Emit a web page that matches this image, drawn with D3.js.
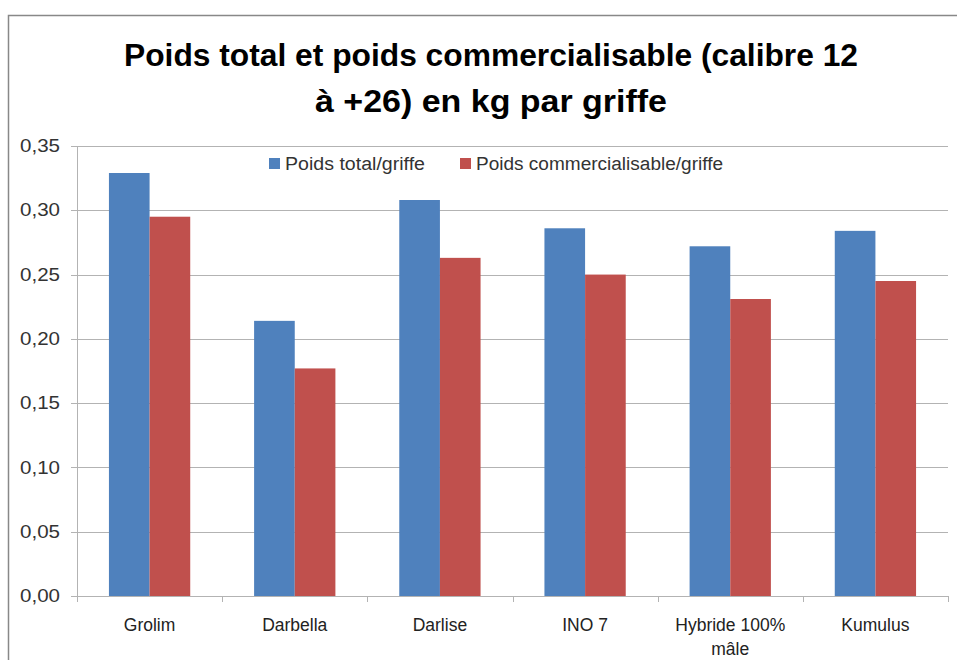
<!DOCTYPE html>
<html><head><meta charset="utf-8">
<script src="https://cdn.jsdelivr.net/npm/d3@7"></script>
<style>body{margin:0;background:#fff}svg{display:block}</style>
</head><body>
<svg id="c" width="957" height="660"></svg>
<script>
const categories = ["Grolim","Darbella","Darlise","INO 7","Hybride 100% mâle","Kumulus"];
const categoryLines = [["Grolim"],["Darbella"],["Darlise"],["INO 7"],["Hybride 100%","mâle"],["Kumulus"]];
const seriesNames = ["Poids total/griffe","Poids commercialisable/griffe"];
const poidsTotal = [0.329, 0.214, 0.308, 0.286, 0.272, 0.284];
const poidsCommercialisable = [0.295, 0.177, 0.263, 0.250, 0.231, 0.245];
const yTicks = [0,0.05,0.10,0.15,0.20,0.25,0.30,0.35];
const colors = ["#4F81BD","#C0504D"];
const titleLines = ["Poids total et poids commercialisable (calibre 12","à +26) en kg par griffe"];

const svg = d3.select("#c");
const font = "'Liberation Sans', Arial, sans-serif";
svg.append("rect").attr("x",8.5).attr("y",15.5).attr("width",1000).attr("height",800)
  .attr("fill","#fff").attr("stroke","#888").attr("stroke-width",1.5);

const m = {left:77, right:948, top:146, bottom:596};
const y = d3.scaleLinear().domain([0,0.35]).range([m.bottom,m.top]);
const x0 = d3.scaleBand().domain(categories).range([m.left,m.right]).paddingInner(0.44).paddingOuter(0.22);
const x1 = d3.scaleBand().domain(seriesNames).range([0,x0.bandwidth()]);

// title
const tt = svg.append("text").attr("text-anchor","middle").attr("font-family",font)
  .attr("font-weight","bold").attr("font-size",31).attr("fill","#000");
titleLines.forEach((t,i)=>{
  tt.append("tspan").attr("x",491).attr("y",66+i*46).text(t)
    .attr("textLength", i===0?734:352).attr("lengthAdjust","spacingAndGlyphs");
});

// gridlines
svg.append("g").selectAll("line").data(yTicks).join("line")
  .attr("x1",m.left-6).attr("x2",m.right).attr("y1",d=>Math.round(y(d))+0.5).attr("y2",d=>Math.round(y(d))+0.5)
  .attr("stroke","#b3b3b3").attr("stroke-width",1);

// y axis
const yAxis = d3.axisLeft(y).tickValues(yTicks).tickSize(0).tickPadding(17)
  .tickFormat(d=>d3.format(".2f")(d).replace(".",","));
const ga = svg.append("g").attr("transform",`translate(${m.left},0)`).call(yAxis);
ga.select(".domain").remove();
ga.selectAll("text").attr("font-family",font).attr("font-size",17.5).attr("fill","#333")
  .attr("textLength",40).attr("lengthAdjust","spacingAndGlyphs");
svg.append("line").attr("x1",m.left+0.5).attr("x2",m.left+0.5).attr("y1",m.top).attr("y2",m.bottom+6)
  .attr("stroke","#b3b3b3");

// bars
const data = categories.map((c,i)=>({c, vals:[poidsTotal[i],poidsCommercialisable[i]]}));
const g = svg.append("g").selectAll("g").data(data).join("g")
  .attr("transform",d=>`translate(${x0(d.c)},0)`);
g.selectAll("rect").data(d=>d.vals.map((v,j)=>({v,s:seriesNames[j],j}))).join("rect")
  .attr("x",d=>x1(d.s)).attr("width",x1.bandwidth())
  .attr("y",d=>y(d.v)).attr("height",d=>y(0)-y(d.v)).attr("fill",d=>colors[d.j]);

// x axis
svg.append("line").attr("x1",m.left).attr("x2",m.right).attr("y1",m.bottom+0.5).attr("y2",m.bottom+0.5)
  .attr("stroke","#b3b3b3");
const bounds = d3.range(categories.length+1).map(i=>m.left+ (m.right-m.left)*i/categories.length);
svg.append("g").selectAll("line").data(bounds.slice(1)).join("line")
  .attr("x1",d=>Math.round(d)+0.5).attr("x2",d=>Math.round(d)+0.5).attr("y1",m.bottom).attr("y2",m.bottom+6)
  .attr("stroke","#b3b3b3");
const xl = svg.append("g").selectAll("text").data(categories).join("text")
  .attr("text-anchor","middle").attr("font-family",font).attr("font-size",17.5).attr("fill","#222");
xl.each(function(d,i){
  const cx = x0(d)+x0.bandwidth()/2;
  categoryLines[i].forEach((l,k)=>{
    d3.select(this).append("tspan").attr("x",cx).attr("y",631+k*24).text(l);
  });
});

// legend
const lg = svg.append("g");
const legX = [269,460];
const legW = [140,247];
seriesNames.forEach((s,i)=>{
  lg.append("rect").attr("x",legX[i]).attr("y",158).attr("width",11).attr("height",11).attr("fill",colors[i]);
  lg.append("text").attr("x",legX[i]+16).attr("y",170).attr("font-family",font).attr("font-size",18)
    .attr("fill","#333").attr("textLength",legW[i]).attr("lengthAdjust","spacingAndGlyphs").text(s);
});
</script>
</body></html>
